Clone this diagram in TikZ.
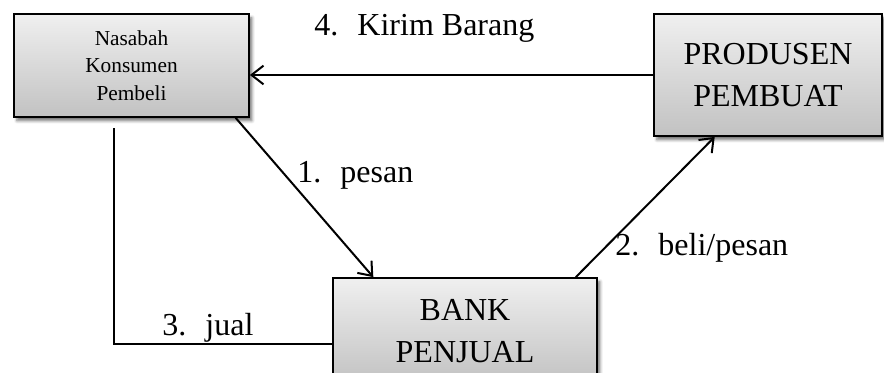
\documentclass[tikz,border=0pt]{standalone}
\usepackage{fontspec}
\setmainfont{Liberation Serif}
\usepackage{tikz}
\usetikzlibrary{arrows.meta,calc,shadows.blur}

\begin{document}
\begin{tikzpicture}[x=0.75pt, y=-0.75pt,
    box/.style={rectangle, draw, line width=1.3pt, top color=gray!12, bottom color=gray!48, align=center, inner sep=0pt,
        blur shadow={shadow xshift=2.2pt, shadow yshift=-2.8pt, shadow blur radius=2.2pt, shadow opacity=55}},
    big/.style={font=\fontsize{24}{31.5}\selectfont},
    small/.style={font=\fontsize{16}{20.5}\selectfont},
    arrow/.style={-{Straight Barb[length=9pt, width=14pt, line width=1.5pt]}, line width=1.5pt},
    line/.style={line width=1.3pt},
    lbl/.style={anchor=base west, inner sep=0pt, font=\fontsize{24}{28}\selectfont}]

    \useasboundingbox (0,0) rectangle (884,372);

    \node[box, small, minimum width=176.25pt, minimum height=77.25pt] (nasabah) at (131.5,65.5) {Nasabah\\Konsumen\\Pembeli};
    \node[box, big, minimum width=171pt, minimum height=91.5pt] (produsen) at (768,75) {PRODUSEN\\PEMBUAT};
    \node[box, big, minimum width=198pt, minimum height=79.5pt] (bank) at (465,331) {BANK\\PENJUAL};

    \coordinate (jualtop) at (114,128);
    \coordinate (jualend) at ($(bank.west)+(0,13)$);

    \draw[arrow] (produsen.west) -- (produsen.west -| nasabah.east);
    \draw[arrow] ($(nasabah.south west)!0.94!(nasabah.south east)$) -- ($(bank.north west)!0.155!(bank.north east)$);
    \draw[arrow] ($(bank.north west)!0.917!(bank.north east)$) -- ($(produsen.south west)!0.268!(produsen.south east)$);
    \draw[line] (jualtop) |- (jualend);

    \node[lbl] (kirim) at (314,35) {4.\hspace{0.6em}Kirim Barang};
    \node[lbl] (pesan) at (297,182) {1.\hspace{0.6em}pesan};
    \node[lbl] (beli) at (615,255) {2.\hspace{0.6em}beli/pesan};
    \node[lbl] (jual) at (162,335) {3.\hspace{0.6em}jual};
\end{tikzpicture}
\end{document}
